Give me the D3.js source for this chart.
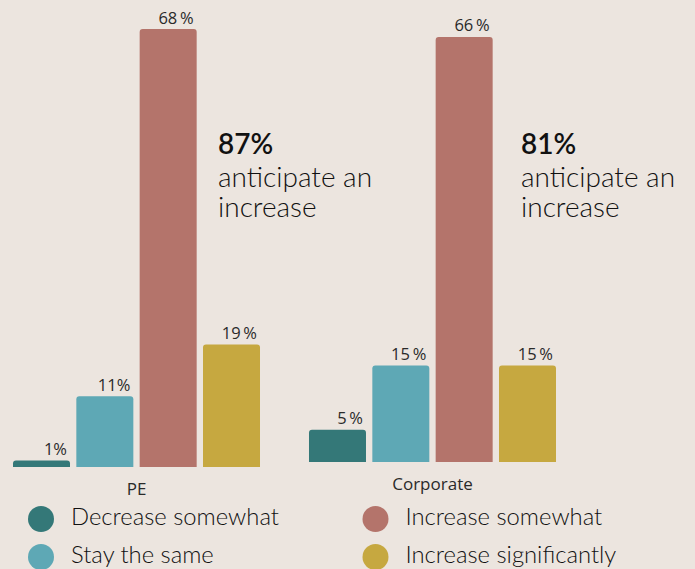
<!DOCTYPE html>
<html>
<head>
<meta charset="utf-8">
<script src="https://cdn.jsdelivr.net/npm/d3@7"></script>
<style>
  html, body { margin: 0; padding: 0; background: #ece5df; }
  svg { display: block; }
</style>
</head>
<body>
<svg id="chart" width="695" height="569"></svg>
<script>
// Data
var groups = ["PE", "Corporate"];
var categories = ["Decrease somewhat", "Stay the same", "Increase somewhat", "Increase significantly"];
var peValues = [1, 11, 68, 19];
var corporateValues = [5, 15, 66, 15];
var totals = ["87%", "81%"];
var calloutLines = ["anticipate an", "increase"];

var colors = ["#347878", "#5ea8b5", "#b4746b", "#c6a840"];

var width = 695, height = 569;
var svg = d3.select("#chart");

svg.append("rect").attr("width", width).attr("height", height).attr("fill", "#ece5df");

// Build rows from the arrays
var rows = [];
groups.forEach(function(g, gi) {
  var vals = gi === 0 ? peValues : corporateValues;
  categories.forEach(function(c, ci) {
    rows.push({ group: g, category: c, value: vals[ci] });
  });
});

// Each panel sits on its own baseline (the two panels are slightly offset)
var baseline = { "PE": 467, "Corporate": 462 };

var x0 = d3.scaleBand().domain(groups).range([13, 556]).paddingInner(0.1655);
var x1 = d3.scaleBand().domain(categories).range([0, x0.bandwidth()]).paddingInner(0.1);
var y = d3.scaleLinear().domain([0, 68]).range([0, 438]);
var color = d3.scaleOrdinal().domain(categories).range(colors);

// bar path with rounded top corners
function barPath(x, top, w, bottom, r) {
  r = Math.min(r, (bottom - top), w / 2);
  return "M" + x + "," + bottom +
    "V" + (top + r) +
    "Q" + x + "," + top + " " + (x + r) + "," + top +
    "H" + (x + w - r) +
    "Q" + (x + w) + "," + top + " " + (x + w) + "," + (top + r) +
    "V" + bottom + "Z";
}

var g = svg.append("g");

g.selectAll("path.bar")
  .data(rows)
  .enter()
  .append("path")
  .attr("class", "bar")
  .attr("fill", d => color(d.category))
  .attr("d", d => {
    var bx = x0(d.group) + x1(d.category);
    var b = baseline[d.group];
    return barPath(bx, b - y(d.value), x1.bandwidth(), b, 3);
  });

// value labels, right aligned over each bar
g.selectAll("text.val")
  .data(rows)
  .enter()
  .append("text")
  .attr("class", "val")
  .attr("x", d => x0(d.group) + x1(d.category) + x1.bandwidth() - 3)
  .attr("y", d => baseline[d.group] - y(d.value) - 5.5)
  .attr("text-anchor", "end")
  .attr("font-family", "'Open Sans', sans-serif")
  .attr("font-size", 16.5)
  .attr("fill", "#2a2a2a")
  .text(d => d.value + (d.value >= 12 || d.value === 5 ? "\u2009%" : "%"));

// group labels
g.selectAll("text.grp")
  .data(groups)
  .enter()
  .append("text")
  .attr("class", "grp")
  .attr("x", d => x0(d) + x0.bandwidth() / 2)
  .attr("y", d => baseline[d] + 28)
  .attr("text-anchor", "middle")
  .attr("font-family", "'Open Sans', sans-serif")
  .attr("font-size", 17)
  .attr("fill", "#2a2a2a")
  .text(d => d);

// callouts next to the tallest bar
var calloutX = { "PE": 218, "Corporate": 521 };
groups.forEach(function(grp, i) {
  var t = g.append("text")
    .attr("x", calloutX[grp])
    .attr("y", 154)
    .attr("font-family", "Lato, sans-serif")
    .attr("fill", "#111");
  t.append("tspan")
    .attr("x", calloutX[grp])
    .attr("font-size", 28)
    .attr("font-weight", 600)
    .text(totals[i]);
  calloutLines.forEach(function(line, li) {
    t.append("tspan")
      .attr("x", calloutX[grp])
      .attr("dy", li === 0 ? 32.5 : 30.5)
      .attr("font-size", 28)
      .attr("font-weight", 300)
      .text(line);
  });
});

// legend (two columns, two rows)
var legend = svg.append("g");
var legendItems = legend.selectAll("g")
  .data(categories)
  .enter()
  .append("g")
  .attr("transform", (d, i) => {
    var col = i < 2 ? 0 : 1;
    var row = i % 2;
    return "translate(" + (41 + col * 334.5) + "," + (519 + row * 38) + ")";
  });

legendItems.append("circle")
  .attr("r", 13)
  .attr("fill", d => color(d));

legendItems.append("text")
  .attr("x", 30)
  .attr("y", 6)
  .attr("font-family", "Lato, sans-serif")
  .attr("font-weight", 300)
  .attr("font-size", 23.8)
  .attr("fill", "#111")
  .text(d => d);
</script>
</body>
</html>
